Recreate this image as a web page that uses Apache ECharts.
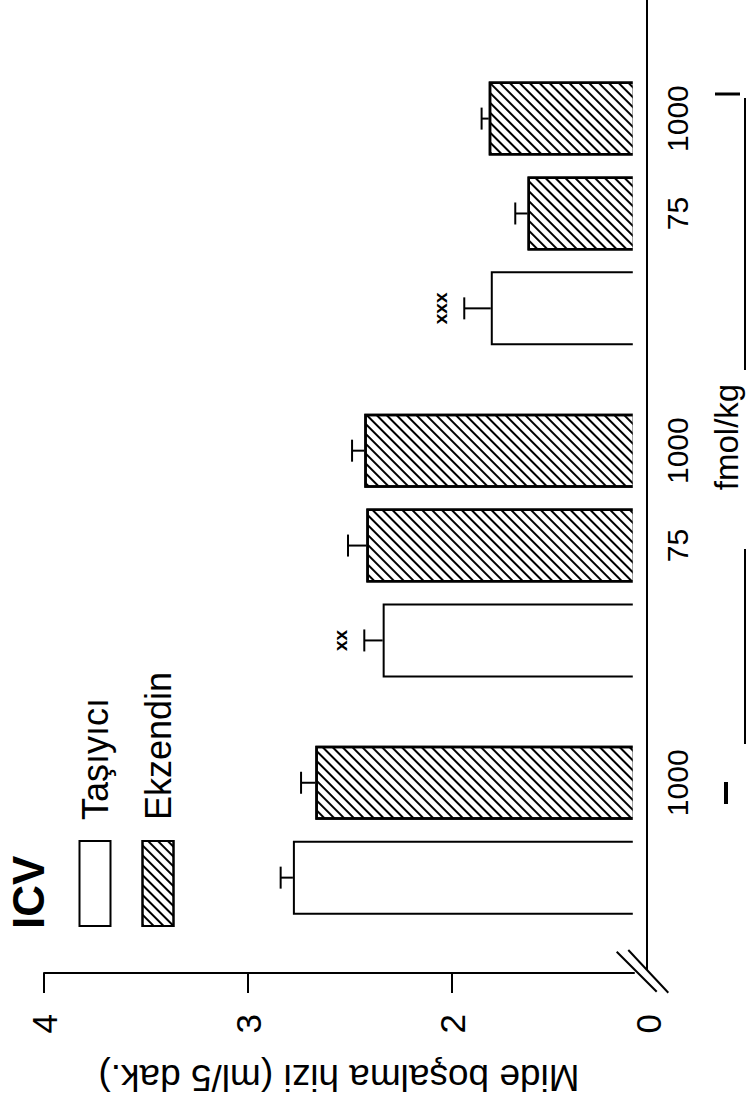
<!DOCTYPE html>
<html><head><meta charset="utf-8">
<script src="https://cdn.jsdelivr.net/npm/echarts@6/dist/echarts.min.js"></script>
<style>
html,body{margin:0;padding:0;overflow:hidden;background:#fff;width:747px;height:1109px;}
#chart{position:absolute;left:0;top:0;width:1109px;height:747px;transform-origin:0 0;transform:translate(0px,1109px) rotate(-90deg);}
</style></head><body><div id="chart"></div>
<script>
// ---- data ----
const groupNames = ['Taşıyıcı', 'Ekzendin'];
const barGroup   = [0, 1, 0, 1, 1, 0, 1, 1];
const doseLabels = ['', '1000', '', '75', '1000', '', '75', '1000'];
const values     = [2.78, 2.67, 2.34, 2.42, 2.43, 1.81, 1.63, 1.82];
const errors     = [0.06, 0.07, 0.09, 0.09, 0.06, 0.13, 0.06, 0.035];
const sigMarks   = ['', '', 'xx', '', '', 'xxx', '', ''];
const slotIndex  = [1, 3, 6, 8, 10, 13, 15, 17];
const slotCount  = 20;
const yBreakValue   = 1.108;           // value at the broken baseline, labelled "0"
const yTickValues   = [2, 3, 4];
const yLabelValues  = [1.108, 2, 3, 4];
const yLabelTexts   = ['0', '2', '3', '4'];
const yAxisTitle = 'Mide boşalma hizi (ml/5 dak.)';
const unitLabel = 'fmol/kg';
const panelTitle = 'ICV';

// ---- build ----
const FONT = '"Liberation Sans", Arial, Helvetica, sans-serif';
const categoryLabels = new Array(slotCount).fill('');
slotIndex.forEach((s, i) => { categoryLabels[s] = doseLabels[i]; });
function seriesData(g) {
  const d = new Array(slotCount).fill('-');
  slotIndex.forEach((s, i) => { if (barGroup[i] === g) d[s] = values[i]; });
  return d;
}
const errData = slotIndex.map((s, i) => [s, values[i], errors[i]]);

const GRID = { left: 160.2, top: 44, width: 970.6, height: 590 };
const hatch = {
  symbol: 'rect', symbolSize: 1, color: '#000',
  dashArrayX: [1, 0], dashArrayY: [2, 5], rotation: -Math.PI / 4
};

const chart = echarts.init(document.getElementById('chart'), null, { renderer: 'svg' });
chart.setOption({
  animation: false,
  backgroundColor: '#fff',
  title: {
    text: panelTitle, left: 180, top: 6, padding: 0,
    textStyle: { fontFamily: FONT, fontSize: 44, fontWeight: 'bold', color: '#000', lineHeight: 44 }
  },
  legend: {
    orient: 'vertical', left: 182, top: 77, padding: 0,
    itemWidth: 85, itemHeight: 31, itemGap: 27, icon: 'rect',
    data: groupNames,
    textStyle: { fontFamily: FONT, fontSize: 36, color: '#000', lineHeight: 35, padding: [0, 0, 0, 16] },
    itemStyle: { borderColor: '#000', borderWidth: 2 }
  },
  grid: GRID,
  xAxis: {
    type: 'category', data: categoryLabels, boundaryGap: true, offset: 13,
    axisLine: { lineStyle: { color: '#000', width: 2 } },
    axisTick: { show: false },
    axisLabel: { interval: 0, margin: 15, color: '#000', fontFamily: FONT, fontSize: 30, lineHeight: 30 },
    splitLine: { show: false }
  },
  yAxis: {
    type: 'value', min: yBreakValue, max: 4, offset: 24.2,
    name: yAxisTitle, nameLocation: 'middle', nameRotate: 90, nameGap: 86,
    nameTextStyle: { fontFamily: FONT, fontSize: 37, color: '#000' },
    axisLine: { show: true, lineStyle: { color: '#000', width: 2 } },
    axisTick: { show: true, length: 20, lineStyle: { color: '#000', width: 2 }, customValues: yTickValues },
    axisLabel: {
      margin: 41, color: '#000', fontFamily: FONT, fontSize: 35,
      customValues: yLabelValues,
      formatter: function (v) {
        let k = 0;
        yLabelValues.forEach((lv, i) => { if (Math.abs(lv - v) < 1e-6) k = i; });
        return k === 0 ? '{z|' + yLabelTexts[0] + '}' : yLabelTexts[k];
      },
      rich: { z: { fontFamily: FONT, fontSize: 35, color: '#000', padding: [28, 0, 0, 0] } }
    },
    splitLine: { show: false }
  },
  series: [
    {
      name: groupNames[0], type: 'bar', data: seriesData(0), barWidth: 74, barGap: '-100%',
      itemStyle: { color: '#fff', borderColor: '#000', borderWidth: 2 }, z: 2
    },
    {
      name: groupNames[1], type: 'bar', data: seriesData(1), barWidth: 74, barGap: '-100%',
      itemStyle: { color: '#fff', borderColor: '#000', borderWidth: 2.5, decal: hatch }, z: 2
    },
    {
      type: 'custom', data: errData, encode: { x: 0, y: 1 }, z: 5, silent: true,
      renderItem: function (params, api) {
        const x = api.value(0), v = api.value(1), e = api.value(2);
        const b = api.coord([x, v]);
        const t = api.coord([x, v + e]);
        const children = [
          { type: 'line', shape: { x1: b[0], y1: b[1], x2: t[0], y2: t[1] }, style: { stroke: '#000', lineWidth: 2 } },
          { type: 'line', shape: { x1: t[0] - 11, y1: t[1], x2: t[0] + 11, y2: t[1] }, style: { stroke: '#000', lineWidth: 2 } }
        ];
        const m = sigMarks[params.dataIndex];
        if (m) {
          children.push({ type: 'text', style: { text: m, x: t[0], y: t[1] - 24, align: 'center', verticalAlign: 'middle',
            font: 'bold 19px ' + FONT, fill: '#000' } });
        }
        return { type: 'group', children: children };
      }
    }
  ],
  graphic: [
    // open bar ends at the baseline
    { type: 'rect', z: 10, shape: { x: 161, y: 632.8, width: 960, height: 3.4 }, style: { fill: '#fff' } },
    // axis break marks
    { type: 'line', z: 11, shape: { x1: 157.3, y1: 616.7, x2: 117.3, y2: 656.7 }, style: { stroke: '#000', lineWidth: 2 } },
    { type: 'line', z: 11, shape: { x1: 159, y1: 628.3, x2: 116.3, y2: 668.3 }, style: { stroke: '#000', lineWidth: 2 } },
    { type: 'line', z: 11, shape: { x1: 139, y1: 647, x2: 161, y2: 647 }, style: { stroke: '#000', lineWidth: 2 } },
    // dose bracket
    { type: 'line', shape: { x1: 305, y1: 726, x2: 327, y2: 726 }, style: { stroke: '#000', lineWidth: 4 } },
    { type: 'line', shape: { x1: 1015, y1: 715, x2: 1015, y2: 740 }, style: { stroke: '#000', lineWidth: 3 } },
    { type: 'line', shape: { x1: 365, y1: 745, x2: 560, y2: 745 }, style: { stroke: '#000', lineWidth: 2 } },
    { type: 'line', shape: { x1: 739, y1: 745, x2: 1011, y2: 745 }, style: { stroke: '#000', lineWidth: 2 } },
    { type: 'text', style: { text: unitLabel, x: 672, y: 726, align: 'center', verticalAlign: 'middle',
      font: '33px ' + FONT, fill: '#000' } }
  ]
});
</script></body></html>
